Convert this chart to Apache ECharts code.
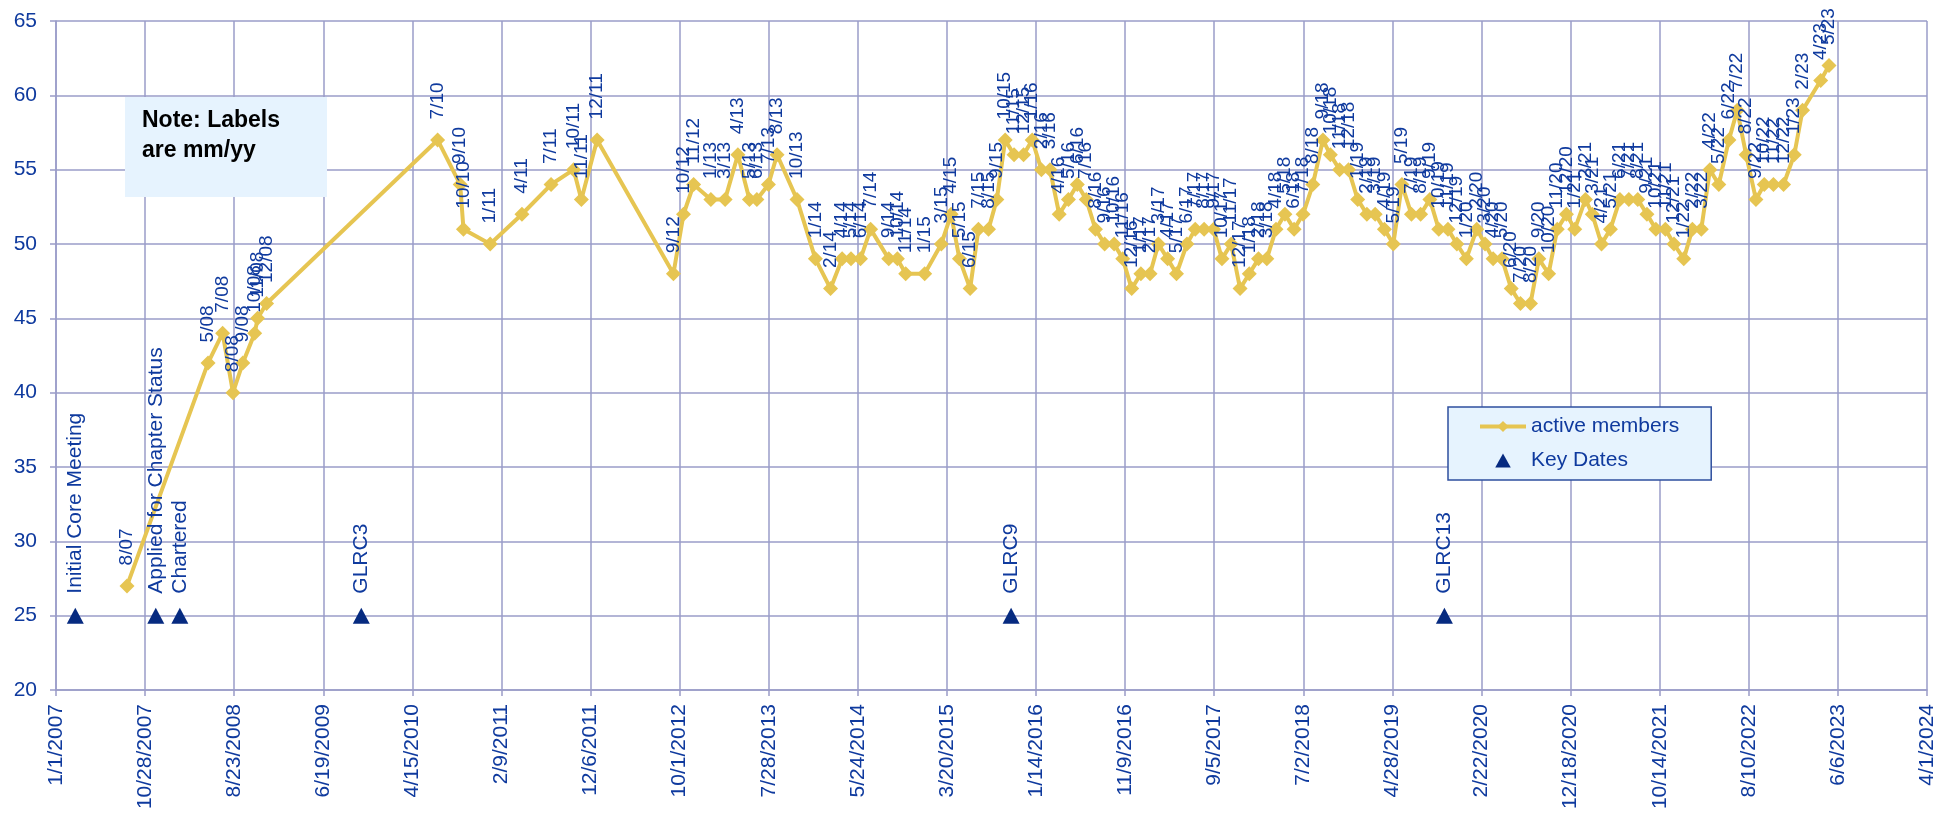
<!DOCTYPE html>
<html>
<head>
<meta charset="utf-8">
<script src="https://cdn.jsdelivr.net/npm/echarts@6/dist/echarts.min.js"></script>
<style>
html,body{margin:0;padding:0;background:#fff;}
#chart{width:1956px;height:814px;}
</style>
</head>
<body>
<div id="chart"></div>
<script>
// ---- data ----
const memberDates = [
'2007-08-28','2008-05-27','2008-07-15','2008-08-19','2008-09-21','2008-10-31','2008-11-10','2008-12-10',
'2010-07-09','2010-09-23','2010-10-04','2011-01-02','2011-04-19','2011-07-26','2011-10-10','2011-11-05','2011-12-28',
'2012-09-10','2012-10-14','2012-11-17','2013-01-14','2013-03-03','2013-04-15','2013-05-24','2013-06-18','2013-07-27','2013-08-25','2013-10-31',
'2014-01-01','2014-02-21','2014-04-01','2014-05-01','2014-06-02','2014-07-06','2014-09-05','2014-10-04','2014-11-01',
'2015-01-04','2015-03-01','2015-04-03','2015-05-01','2015-06-06','2015-07-04','2015-08-07','2015-09-04','2015-10-02','2015-11-01','2015-12-03',
'2016-01-01','2016-02-01','2016-03-01','2016-04-01','2016-05-02','2016-06-01','2016-07-01','2016-08-01','2016-09-01','2016-10-03','2016-11-01','2016-12-01',
'2017-01-01','2017-02-01','2017-03-01','2017-04-01','2017-05-01','2017-06-05','2017-07-03','2017-08-02','2017-09-03','2017-10-01','2017-11-01','2017-12-01',
'2018-01-01','2018-02-01','2018-03-01','2018-04-01','2018-05-01','2018-06-01','2018-07-01','2018-08-03','2018-09-06','2018-10-01','2018-11-01','2018-12-01',
'2019-01-01','2019-02-01','2019-03-01','2019-04-01','2019-05-01','2019-05-30','2019-07-01','2019-08-01','2019-09-01','2019-10-01','2019-11-01','2019-12-01',
'2020-01-02','2020-02-06','2020-03-05','2020-04-01','2020-05-01','2020-06-01','2020-07-02','2020-08-05','2020-09-02','2020-10-05','2020-11-03','2020-12-04',
'2021-01-01','2021-02-06','2021-03-01','2021-04-01','2021-05-01','2021-06-02','2021-07-02','2021-08-01','2021-09-01','2021-10-01','2021-11-02','2021-12-01',
'2022-01-03','2022-02-01','2022-03-03','2022-04-01','2022-05-01','2022-06-04','2022-07-02','2022-08-01','2022-09-03','2022-10-01','2022-11-01','2022-12-05',
'2023-01-10','2023-02-07','2023-04-09','2023-05-07'
];
const memberCounts = [
27,42,44,40,42,44,45,46,
57,54,51,50,52,54,55,53,57,
48,52,54,53,53,56,53,53,54,56,53,
49,47,49,49,49,51,49,49,48,
48,50,52,49,47,51,51,53,57,56,56,
57,55,55,52,53,54,53,51,50,50,49,47,
48,48,50,49,48,50,51,51,51,49,50,47,
48,49,49,51,52,51,52,54,57,56,55,55,
53,52,52,51,50,54,52,52,53,51,51,50,
49,51,50,49,49,47,46,46,49,48,51,52,
51,53,52,50,51,53,53,53,52,51,51,50,
49,51,51,55,54,57,59,56,53,54,54,54,
56,59,61,62
];
const keyDates = ['2007-03-07','2007-12-03','2008-02-22','2009-10-25','2015-10-22','2019-10-20'];
const keyNames = ['Initial Core Meeting','Applied for Chapter Status','Chartered','GLRC3','GLRC9','GLRC13'];
const keyLevels = [25,25,25,25,25,25];

const axisStart = '2007-01-01';
const xMaxDays = 6300, xStepDays = 300;
const yMin = 20, yMax = 65, yStep = 5;

// ---- helpers ----
const DAY = 86400000;
function utc(s){ const p = s.split('-').map(Number); return Date.UTC(p[0], p[1]-1, p[2]); }
const t0 = utc(axisStart);
function dayNum(s){ return Math.round((utc(s) - t0) / DAY); }
function mmyy(s){ const p = s.split('-'); return (+p[1]) + '/' + p[0].slice(2); }
function dayLabel(v){ const d = new Date(t0 + v*DAY); return (d.getUTCMonth()+1) + '/' + d.getUTCDate() + '/' + d.getUTCFullYear(); }

const memberData = memberDates.map((d,i)=>({value:[dayNum(d), memberCounts[i]], lbl: mmyy(d)}));
const keyData = keyDates.map((d,i)=>({value:[dayNum(d), keyLevels[i]], name: keyNames[i]}));

const FONT = 'Liberation Sans, Arial, sans-serif';
const BLUE = '#0f3a9e';
const GRID = '#9a9cc8';
const GOLD = '#E6C552';
const NAVY = '#062a80';
const TRI = 'path://M5,0 L10,9 L0,9 Z';

const chart = echarts.init(document.getElementById('chart'), null, {renderer:'canvas'});
chart.setOption({
  animation:false,
  backgroundColor:'#ffffff',
  grid:{left:56, right:29, top:21, bottom:124, containLabel:false},
  xAxis:{
    type:'value', min:0, max:xMaxDays, interval:xStepDays,
    axisLine:{show:true, lineStyle:{color:GRID, width:1.5}},
    axisTick:{show:true, length:6, lineStyle:{color:GRID, width:1.5}},
    splitLine:{show:true, lineStyle:{color:GRID, width:1.5}},
    axisLabel:{rotate:90, margin:14, color:BLUE, fontSize:21, fontFamily:FONT, formatter:dayLabel, showMinLabel:true, showMaxLabel:true}
  },
  yAxis:{
    type:'value', min:yMin, max:yMax, interval:yStep,
    axisLine:{show:true, lineStyle:{color:GRID, width:1.5}},
    axisTick:{show:true, length:6, lineStyle:{color:GRID, width:1.5}},
    splitLine:{show:true, lineStyle:{color:GRID, width:1.5}},
    axisLabel:{margin:19, color:BLUE, fontSize:21, fontFamily:FONT}
  },
  legend:{
    data:[
      {name:'active members'},
      {name:'Key Dates', icon:TRI}
    ],
    orient:'vertical', left:1448, top:407,
    backgroundColor:'#e6f3fe', borderColor:'#2e4f9e', borderWidth:1.5,
    padding:[9,32,9,30], itemGap:13, itemWidth:46, itemHeight:14,
    symbolKeepAspect:true,
    lineStyle:{width:4},
    textStyle:{color:BLUE, fontSize:21, fontFamily:FONT}
  },
  graphic:[
    {type:'rect', left:125, top:97, z:10, shape:{width:202, height:100}, style:{fill:'#e6f3fe'}},
    {type:'text', left:142, top:106, z:11, style:{text:'Note: Labels\nare mm/yy', fill:'#000', font:'bold 23px Liberation Sans, Arial, sans-serif', lineHeight:30}}
  ],
  series:[
    {
      name:'active members', type:'line', data:memberData,
      symbol:'diamond', symbolSize:15,
      lineStyle:{color:GOLD, width:4}, itemStyle:{color:GOLD, opacity:1},
      label:{show:true, position:'top', rotate:90, align:'left', verticalAlign:'middle', distance:13,
             color:BLUE, fontSize:19, fontFamily:FONT, formatter:p=>p.data.lbl},
      z:3
    },
    {
      name:'Key Dates', type:'scatter', data:keyData,
      symbol:TRI, symbolSize:[17,16], itemStyle:{color:NAVY, opacity:1},
      label:{show:true, position:'top', rotate:90, align:'left', verticalAlign:'middle', distance:14,
             color:BLUE, opacity:1, fontSize:21, fontFamily:FONT, formatter:p=>p.name},
      z:4
    }
  ]
});
</script>
</body>
</html>
